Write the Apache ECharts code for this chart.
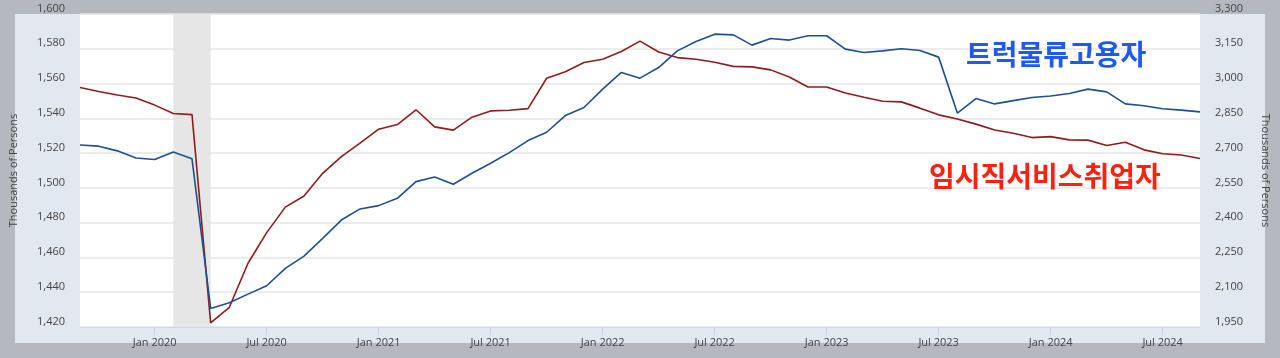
<!DOCTYPE html>
<html>
<head>
<meta charset="utf-8">
<script src="https://cdn.jsdelivr.net/npm/echarts@6/dist/echarts.min.js"></script>
<style>
html,body{margin:0;padding:0;background:#b5b9bf;}
#chart{width:1280px;height:358px;}
</style>
</head>
<body>
<div id="chart"></div>
<script>
const months = [
 '2019-09','2019-10','2019-11','2019-12',
 '2020-01','2020-02','2020-03','2020-04','2020-05','2020-06','2020-07','2020-08','2020-09','2020-10','2020-11','2020-12',
 '2021-01','2021-02','2021-03','2021-04','2021-05','2021-06','2021-07','2021-08','2021-09','2021-10','2021-11','2021-12',
 '2022-01','2022-02','2022-03','2022-04','2022-05','2022-06','2022-07','2022-08','2022-09','2022-10','2022-11','2022-12',
 '2023-01','2023-02','2023-03','2023-04','2023-05','2023-06','2023-07','2023-08','2023-09','2023-10','2023-11','2023-12',
 '2024-01','2024-02','2024-03','2024-04','2024-05','2024-06','2024-07','2024-08','2024-09'
];
// 트럭물류고용자 (left axis, thousands)
const truckEmployees = [
 1524.7,1524.0,1521.3,1517.2,
 1516.3,1520.7,1516.7,1430.7,1433.9,1438.9,1443.7,1453.7,1460.8,1471.0,1481.5,1487.9,
 1489.8,1494.0,1503.6,1506.3,1502.1,1508.4,1514.2,1520.3,1527.2,1532.0,1541.6,1546.2,
 1556.8,1566.4,1563.1,1569.2,1578.8,1584.2,1588.4,1588.0,1582.1,1585.9,1585.0,1587.5,
 1587.5,1579.8,1577.9,1578.8,1580.0,1579.0,1575.2,1543.0,1551.4,1548.3,1550.2,1552.0,
 1552.8,1554.3,1556.8,1555.2,1548.3,1547.2,1545.5,1544.7,1543.7
];
// 임시직서비스취업자 (right axis, thousands)
const tempHelpEmployees = [
 2983,2966,2951,2938,
 2907,2871,2866,1968,2035,2225,2357,2467,2515,2613,2685,2743,
 2803,2823,2887,2813,2799,2855,2882,2885,2892,3023,3051,3091,
 3105,3138,3183,3136,3112,3105,3092,3074,3072,3059,3028,2985,
 2985,2959,2941,2924,2921,2894,2865,2847,2825,2800,2786,2767,
 2771,2757,2756,2733,2747,2714,2697,2692,2677
];
const recession = ['2020-02','2020-04'];
const monthNames = ['Jan','Feb','Mar','Apr','May','Jun','Jul','Aug','Sep','Oct','Nov','Dec'];
const labelTruck = '트럭물류고용자';
const labelTemp = '임시직서비스취업자';
const axisTitle = 'Thousands of Persons';

const isHalfYear = (i, v) => { const m = (v || months[i]).slice(5); return m === '01' || m === '07'; };

const chart = echarts.init(document.getElementById('chart'));
const tickFont = {fontFamily:'Open Sans', fontSize:11, color:'#444'};
chart.setOption({
  backgroundColor:'#b5b9bf',
  animation:false,
  graphic:[
    {type:'rect', z:-10, shape:{x:15,y:14,width:1250,height:329}, style:{fill:'#e1e8f0'}},
    {type:'text', z:100, left:966, top:40, style:{text:labelTruck, fill:'#1f5af0', font:'bold 28px "Noto Sans CJK KR"'}},
    {type:'text', z:100, left:929, top:162, style:{text:labelTemp, fill:'#ff2010', font:'bold 28px "Noto Sans CJK KR"'}}
  ],
  grid:{left:79, right:80, top:14, bottom:31, show:true, backgroundColor:'#ffffff', borderWidth:0},
  xAxis:{
    type:'category', data:months, boundaryGap:false,
    axisLine:{show:true, lineStyle:{color:'#cdd8e8', width:1}},
    axisTick:{show:true, length:8, interval:isHalfYear, lineStyle:{color:'#c8d3e4'}},
    axisLabel:Object.assign({interval:isHalfYear, margin:10,
      formatter:v => monthNames[parseInt(v.slice(5),10)-1] + ' ' + v.slice(0,4)}, tickFont),
    splitLine:{show:false}
  },
  yAxis:[
    {type:'value', min:1420, max:1600, interval:20, position:'left',
     name:axisTitle, nameLocation:'middle', nameGap:61,
     nameTextStyle:{fontFamily:'Open Sans', fontSize:11, color:'#444'},
     axisLine:{show:false}, axisTick:{show:false},
     axisLabel:Object.assign({margin:15, verticalAlign:'bottom',
       formatter:v => v.toLocaleString('en-US')}, tickFont),
     splitLine:{show:true, lineStyle:{color:'#e4e4e4', width:1.5}}},
    {type:'value', min:1950, max:3300, interval:150, position:'right',
     name:axisTitle, nameLocation:'middle', nameGap:60, nameRotate:-90,
     nameTextStyle:{fontFamily:'Open Sans', fontSize:11, color:'#444'},
     axisLine:{show:false}, axisTick:{show:false},
     axisLabel:Object.assign({margin:15, verticalAlign:'bottom',
       formatter:v => v.toLocaleString('en-US')}, tickFont),
     splitLine:{show:false}}
  ],
  series:[
    {type:'line', name:labelTemp, yAxisIndex:1, data:tempHelpEmployees, showSymbol:false,
     lineStyle:{color:'#8e1c1c', width:1.6}, itemStyle:{color:'#8e1c1c'},
     markArea:{silent:true, itemStyle:{color:'#e6e6e6'}, data:[[{xAxis:recession[0]},{xAxis:recession[1]}]]}},
    {type:'line', name:labelTruck, yAxisIndex:0, data:truckEmployees, showSymbol:false,
     lineStyle:{color:'#1d4f91', width:1.6}, itemStyle:{color:'#1d4f91'}}
  ]
});
</script>
</body>
</html>
